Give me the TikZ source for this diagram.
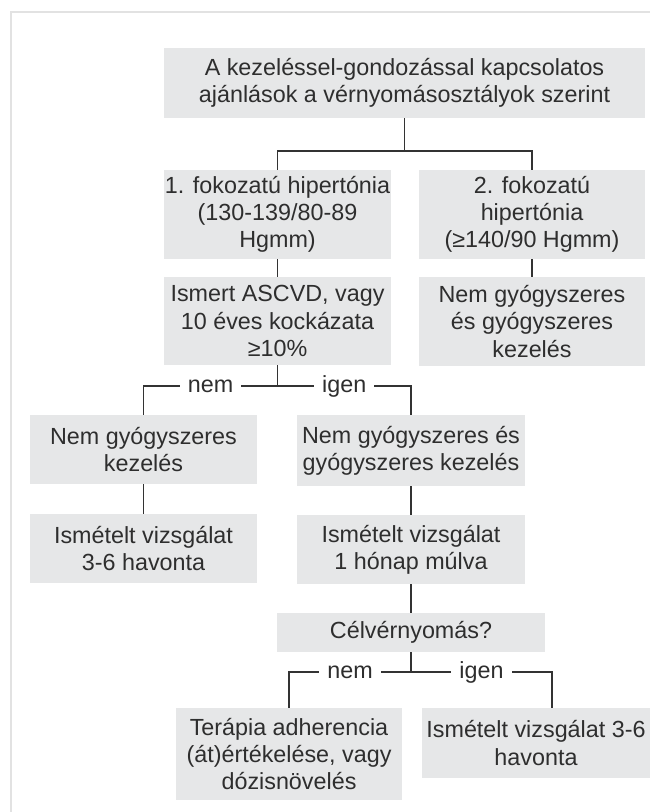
\documentclass[tikz,border=0pt]{standalone}
\usepackage{fontspec}
\setmainfont{Liberation Sans}
\usetikzlibrary{positioning}

\newdimen\pxu \pxu=0.75pt
\definecolor{boxgray}{HTML}{E6E7E8}
\definecolor{txtgray}{HTML}{2E2E2E}
\definecolor{linegray}{HTML}{333333}
\definecolor{framegray}{HTML}{E2E2E2}

\tikzset{
  box/.style 2 args={fill=boxgray, text=txtgray, align=center, inner sep=0pt,
    minimum width=#1*\pxu, minimum height=#2*\pxu},
  conn/.style={draw=linegray, line width=1pt},
  lbl/.style={fill=white, text=txtgray, inner xsep=6pt, inner ysep=1pt},
}

\begin{document}
\begin{tikzpicture}[x=0.75pt, y=-0.75pt, font=\fontsize{17.5}{20.3}\selectfont]
  %--- page size and light frame
  \useasboundingbox (0,0) rectangle (650,812);
  \draw[framegray, line width=1.5pt] (11,812) -- (11,12) -- (650,12);

  %--- first level
  \node[box={481}{70}] (top) at (404.5,83)
    {A kezeléssel-gondozással kapcsolatos\\ajánlások a vérnyomásosztályok szerint};
  \node[box={227}{89}] (grade1) at (277.5,214.5)
    {1. fokozatú hipertónia\\(130-139/80-89\\Hgmm)};
  \node[box={226}{89}] (grade2) at (532,214.5)
    {2. fokozatú\\hipertónia\\(≥140/90 Hgmm)};
  \node[box={227}{88}] (ascvd) at (277.5,321)
    {Ismert ASCVD, vagy\\10 éves kockázata\\≥10\%};
  \node[box={226}{89}] (combo) at (532,321.5)
    {Nem gyógyszeres\\és gyógyszeres\\kezelés};

  %--- second level
  \node[box={227}{69}] (nodrug) at (143.5,449.5)
    {Nem gyógyszeres\\kezelés};
  \node[box={228}{71}] (both) at (411,450.5)
    {Nem gyógyszeres és\\gyógyszeres kezelés};
  \node[box={227}{69}] (recheckA) at (143.5,548.5)
    {Ismételt vizsgálat\\3-6 havonta};
  \node[box={228}{69}] (recheckB) at (411,549.5)
    {Ismételt vizsgálat\\1 hónap múlva};
  \node[box={268}{39}] (target) at (411,632.5)
    {Célvérnyomás?};

  %--- third level
  \node[box={226}{92}] (adhere) at (289,754)
    {Terápia adherencia\\(át)értékelése, vagy\\dózisnövelés};
  \node[box={228}{70}] (recheckC) at (536,743)
    {Ismételt vizsgálat 3-6\\havonta};

  %--- fork points
  \coordinate (forkA) at (404.5,151);
  \coordinate (forkB) at (277.5,386);
  \coordinate (forkC) at (411,672);

  %--- connectors
  \draw[conn] (top.south) -- (forkA) -| (grade1.north);
  \draw[conn] (forkA) -| (grade2.north);
  \draw[conn] (grade1) -- (ascvd);
  \draw[conn] (grade2) -- (combo);
  \draw[conn] (ascvd.south) -- (forkB) -| node[lbl, pos=0.25] {nem} (nodrug.north);
  \draw[conn] (forkB) -| node[lbl, pos=0.25] {igen} (both.north);
  \draw[conn] (nodrug) -- (recheckA);
  \draw[conn] (both) -- (recheckB);
  \draw[conn] (recheckB) -- (target);
  \draw[conn] (target.south) -- (forkC) -| node[lbl, pos=0.25] {nem} (adhere.north);
  \draw[conn] (forkC) -| node[lbl, pos=0.25] {igen} ([xshift=12pt]recheckC.north);
\end{tikzpicture}
\end{document}
